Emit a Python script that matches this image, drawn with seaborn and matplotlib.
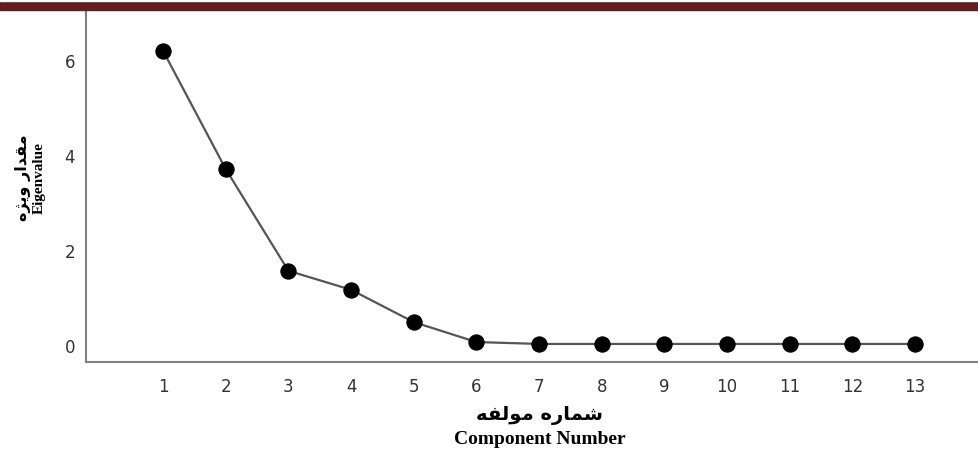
import matplotlib
matplotlib.use("Agg")
import matplotlib.pyplot as plt
import seaborn as sns
import pandas as pd
from matplotlib.patches import Rectangle

# scree plot values
components = [1, 2, 3, 4, 5, 6, 7, 8, 9, 10, 11, 12, 13]
eigenvalues = [6.19, 3.70, 1.56, 1.16, 0.48, 0.06, 0.02, 0.02, 0.02, 0.02, 0.02, 0.02, 0.02]
y_ticks = [0, 2, 4, 6]

# persian labels, pre-shaped (presentation forms, visual order)
fa_xlabel = "\uFEEA\uFED4\uFEDF\uFEEE\uFEE3 \uFEE9\uFEAD\uFE8E\uFEE4\uFEB7"  # شماره مولفه
fa_ylabel = "\uFEE9\uFB8B\uFEF3\uFEED \uFEAD\uFE8D\uFEAA\uFED8\uFEE3"        # مقدار ویژه

df = pd.DataFrame({"component": components, "eigenvalue": eigenvalues})

sns.set_style("white")
plt.rcParams['font.family'] = ['DejaVu Sans']

fig = plt.figure(figsize=(9.79, 4.52), dpi=100)
ax = fig.add_axes([86 / 979, 1 - 363 / 452, 1 - 86 / 979, (363 - 11) / 452])

sns.lineplot(data=df, x="component", y="eigenvalue", ax=ax, color="#555555", linewidth=1.6,
             marker="o", markersize=11, markerfacecolor="black", markeredgecolor="black")

ax.set_xlim(-0.23, 14.02)
ax.set_ylim(-0.36, 7.05)
ax.set_xticks(components)
ax.set_yticks(y_ticks)
ax.tick_params(axis="both", length=0, labelsize=12, labelcolor="#333333")
ax.tick_params(axis="x", pad=11)
ax.tick_params(axis="y", pad=8)
ax.set_xlabel("")
ax.set_ylabel("")

for side in ["top", "right"]:
    ax.spines[side].set_visible(False)
for side in ["left", "bottom"]:
    ax.spines[side].set_color("#808080")
    ax.spines[side].set_linewidth(1.5)

# axis titles (persian + english)
fig.text(540 / 979, 1 - 416 / 452, fa_xlabel, ha="center", va="center", fontsize=14,
         fontweight="bold", family=["DejaVu Sans"], color="black")
fig.text(540 / 979, 1 - 440 / 452, "Component Number", ha="center", va="center", fontsize=14,
         fontweight="bold", family=["Liberation Serif"], color="black")
fig.text(23 / 979, 1 - 178 / 452, fa_ylabel, ha="center", va="center", rotation=90, fontsize=11.5,
         fontweight="bold", family=["DejaVu Sans"], color="black")
fig.text(39 / 979, 1 - 178 / 452, "Eigenvalue", ha="center", va="center", rotation=90, fontsize=11,
         fontweight="bold", family=["Liberation Serif"], color="black")

# dark red header band
fig.patches.append(Rectangle((0, 1 - 11 / 452), 1, 11 / 452, transform=fig.transFigure,
                             color="#612020", zorder=5))
fig.patches.append(Rectangle((0, 1 - 2.2 / 452), 1, 1 / 452, transform=fig.transFigure,
                             color="white", zorder=6))

fig.savefig("out.png", dpi=100)
